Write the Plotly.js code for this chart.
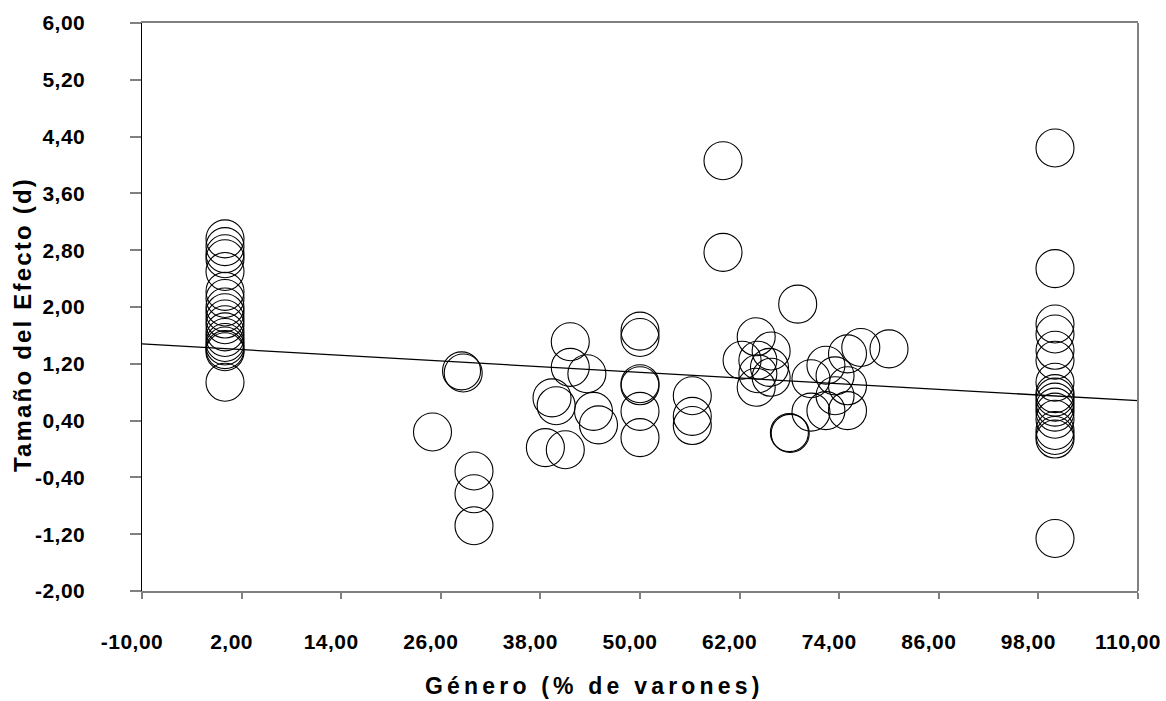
<!DOCTYPE html>
<html>
<head>
<meta charset="utf-8">
<script src="https://cdn.plot.ly/plotly-3.0.1.min.js"></script>
<style>
  html, body { margin: 0; padding: 0; background: #fff; }
  #chart { width: 1166px; height: 701px; }
  .annotation[data-index="0"] text { letter-spacing: 4.2px; }
  .annotation[data-index="1"] text { letter-spacing: 2.2px; }
  .xtick text, .ytick text { letter-spacing: 0.5px; }
</style>
</head>
<body>
<div id="chart"></div>
<script>
// Género (% de varones)
const genero = [
  0,0,0,0,0,0,0,0,0,0,0,0,0,0,0,0,0,0,
  25,
  28.5,28.7,
  30,30,30,
  38.6,39.4,39.9,41.0,41.6,41.6,43.6,44.4,45.0,
  50,50,50,50,50,50,
  56.3,56.3,56.3,
  60,60,
  62.3,64.0,64.2,65.8,65.6,64.2,65.8,64.0,
  68.0,68.1,
  69.0,
  70.6,70.6,72.4,72.4,73.5,73.5,75.0,75.0,75.0,76.6,80.0,
  100,100,100,100,100,100,100,100,100,100,100,100,100,100,100,100,100
];
// Tamaño del Efecto (d)
const tamano = [
  2.96,2.85,2.75,2.68,2.50,2.22,2.12,2.00,1.92,1.83,1.75,1.65,1.57,1.50,1.45,1.40,1.37,0.94,
  0.24,
  1.10,1.07,
  -0.31,-0.63,-1.08,
  0.02,0.72,0.61,-0.01,1.51,1.15,1.06,0.53,0.34,
  1.66,1.57,0.92,0.89,0.53,0.16,
  0.75,0.46,0.33,
  4.06,2.77,
  1.25,1.58,1.25,1.38,1.15,1.06,1.01,0.87,
  0.23,0.22,
  2.04,
  0.99,0.52,1.18,0.54,1.03,0.75,1.34,0.89,0.54,1.43,1.41,
  4.24,2.54,1.76,1.62,1.39,1.25,0.94,0.78,0.73,0.66,0.59,0.52,0.42,0.26,0.19,0.14,-1.26
];
// Regression line end points
const lineaX = [-10, 110];
const lineaY = [1.48, 0.68];

// Axis ticks and labels
const xTicks = [-10, 2, 14, 26, 38, 50, 62, 74, 86, 98, 110];
const xTickLabels = ['-10,00', '2,00', '14,00', '26,00', '38,00', '50,00', '62,00', '74,00', '86,00', '98,00', '110,00'];
const yTicks = [-2, -1.2, -0.4, 0.4, 1.2, 2, 2.8, 3.6, 4.4, 5.2, 6];
const yTickLabels = ['-2,00', '-1,20', '-0,40', '0,40', '1,20', '2,00', '2,80', '3,60', '4,40', '5,20', '6,00'];

const xTitle = 'Género (% de varones)';
const yTitle = 'Tamaño del Efecto (d)';

const FONT = '"Liberation Sans", Arial, sans-serif';

const data = [
  {
    type: 'scatter', mode: 'markers',
    x: genero, y: tamano,
    marker: { symbol: 'circle-open', size: 38, color: '#000', line: { width: 1.1, color: '#000' } },
    cliponaxis: false,
    showlegend: false
  },
  {
    type: 'scatter', mode: 'lines',
    x: lineaX, y: lineaY,
    line: { color: '#000', width: 1.3 },
    showlegend: false
  }
];

const layout = {
  width: 1166, height: 701,
  margin: { l: 142, r: 28, t: 23, b: 110 },
  paper_bgcolor: '#fff', plot_bgcolor: '#fff',
  font: { family: FONT, color: '#000' },
  xaxis: {
    range: [-10, 110],
    tickmode: 'array', tickvals: xTicks, ticktext: xTickLabels,
    showgrid: false, zeroline: false,
    showline: true, linecolor: '#808080', linewidth: 2, mirror: true,
    ticks: 'outside', ticklen: 6, tickwidth: 2, tickcolor: '#808080',
    tickfont: { family: FONT, size: 21, weight: 'bold', color: '#000' },
    ticklabelstandoff: 25,
    ticklabelshift: -10
  },
  yaxis: {
    range: [-2, 6],
    tickmode: 'array', tickvals: yTicks, ticktext: yTickLabels,
    showgrid: false, zeroline: false,
    showline: true, linecolor: '#000', linewidth: 1.5, mirror: false,
    ticks: 'outside', ticklen: 11, tickwidth: 2, tickcolor: '#808080',
    tickfont: { family: FONT, size: 21, weight: 'bold', color: '#000' },
    ticklabelstandoff: 40
  },
  annotations: [
    { text: xTitle, xref: 'paper', yref: 'paper', x: 0.4548, y: -0.168,
      xanchor: 'center', yanchor: 'middle', showarrow: false,
      font: { family: FONT, size: 23, weight: 'bold', color: '#000' } },
    { text: yTitle, xref: 'paper', yref: 'paper', x: -0.1205, y: 0.47,
      xanchor: 'center', yanchor: 'middle', showarrow: false, textangle: -90,
      font: { family: FONT, size: 24, weight: 'bold', color: '#000' } }
  ],
  shapes: [
    { type: 'line', xref: 'paper', yref: 'paper', x0: 1, x1: 1, y0: 0, y1: 1, line: { color: '#808080', width: 2 } }
  ]
};

Plotly.newPlot('chart', data, layout, { displayModeBar: false, staticPlot: true });
</script>
</body>
</html>
